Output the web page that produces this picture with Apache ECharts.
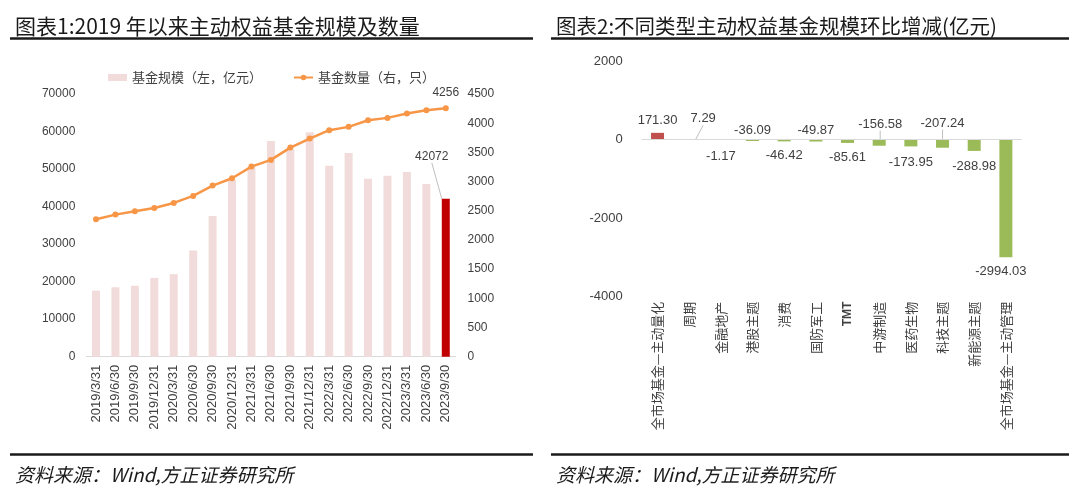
<!DOCTYPE html>
<html>
<head>
<meta charset="utf-8">
<script src="https://cdn.jsdelivr.net/npm/echarts@6/dist/echarts.min.js"></script>
<style>
html,body{margin:0;padding:0;background:#fff;}
#main{width:1080px;height:488px;}
</style>
</head>
<body>
<div id="main"></div>
<script>
// ---- Chart 1 data ----
const dates = ['2019/3/31','2019/6/30','2019/9/30','2019/12/31','2020/3/31','2020/6/30','2020/9/30','2020/12/31','2021/3/31','2021/6/30','2021/9/30','2021/12/31','2022/3/31','2022/6/30','2022/9/30','2022/12/31','2023/3/31','2023/6/30','2023/9/30'];
const fundScale = [17600,18500,18900,21000,22000,28300,37500,47000,50500,57500,55300,59800,50900,54300,47400,48200,49200,46000,42072];
const fundCount = [2355,2434,2491,2548,2634,2754,2931,3057,3257,3371,3582,3737,3880,3937,4051,4091,4165,4222,4256];
const leftTicks = [0,10000,20000,30000,40000,50000,60000,70000];
const rightTicks = [0,500,1000,1500,2000,2500,3000,3500,4000,4500];

// ---- Chart 2 data ----
const categories2 = ['全市场基金—主动量化','周期','金融地产','港股主题','消费','国防军工','TMT','中游制造','医药生物','科技主题','新能源主题','全市场基金—主动管理'];
const changes2 = [171.30, 7.29, -1.17, -36.09, -46.42, -49.87, -85.61, -156.58, -173.95, -207.24, -288.98, -2994.03];
const ticks2 = [-4000,-2000,0,2000];

const CJK = "'Noto Sans CJK SC', sans-serif";
const NUM = "'Liberation Sans', 'Noto Sans CJK SC', sans-serif";
const textColor = '#404040';
const plain = v => String(v);

const chart = echarts.init(document.getElementById('main'), null, {renderer: 'canvas'});

const lastIdx = fundScale.length - 1;
const barData1 = fundScale.map((v, i) => i === lastIdx
  ? {value: v, itemStyle: {color: '#C00000'}, label: {show: true}}
  : {value: v});
const lineData1 = fundCount.map((v, i) => i === lastIdx
  ? {value: v, label: {show: true}}
  : {value: v});

const labelPos2 = ['top','top','bottom','top','bottom','top','bottom','top','bottom','top','bottom','bottom'];
const labelShift2 = [[0,0],[14,-8],[0,4],[0,3],[0,2],[0,3],[0,2],[1,-3],[0,4],[0,-4],[0,3],[-5,2]];
const withLine2 = [false,true,false,false,false,false,false,true,false,true,false,false];
const barData2 = changes2.map((v, i) => ({
  value: v,
  itemStyle: {color: i === 0 ? '#C0504D' : '#9BBB59'},
  label: {position: labelPos2[i]},
  labelLine: {show: withLine2[i]}
}));

const option = {
  animation: false,
  backgroundColor: '#fff',
  textStyle: {fontFamily: NUM},
  title: [
    {text: '图表1:2019 年以来主动权益基金规模及数量', left: 10, top: 11,
     textStyle: {fontFamily: CJK, fontSize: 21, fontWeight: 'normal', color: '#1a1a1a'}},
    {text: '图表2:不同类型主动权益基金规模环比增减(亿元)', left: 551, top: 11,
     textStyle: {fontFamily: CJK, fontSize: 20.5, fontWeight: 'normal', color: '#1a1a1a'}},
    {text: '资料来源：Wind,方正证券研究所', left: 10, top: 460,
     textStyle: {fontFamily: CJK, fontSize: 19, fontWeight: 'normal', fontStyle: 'italic', color: '#1a1a1a'}},
    {text: '资料来源：Wind,方正证券研究所', left: 551, top: 460,
     textStyle: {fontFamily: CJK, fontSize: 19, fontWeight: 'normal', fontStyle: 'italic', color: '#1a1a1a'}}
  ],
  graphic: [
    {type: 'line', shape: {x1: 10, y1: 38.5, x2: 533, y2: 38.5}, style: {stroke: '#1a1a1a', lineWidth: 2.5}},
    {type: 'line', shape: {x1: 551, y1: 38.5, x2: 1069, y2: 38.5}, style: {stroke: '#1a1a1a', lineWidth: 2.5}},
    {type: 'line', shape: {x1: 10, y1: 454.5, x2: 533, y2: 454.5}, style: {stroke: '#1a1a1a', lineWidth: 2.5}},
    {type: 'line', shape: {x1: 551, y1: 454.5, x2: 1069, y2: 454.5}, style: {stroke: '#1a1a1a', lineWidth: 2.5}}
  ],
  legend: {
    left: 103, top: 66,
    itemWidth: 19, itemHeight: 7, itemGap: 31,
    textStyle: {fontFamily: CJK, fontSize: 13, color: textColor},
    data: [
      {name: '基金规模（左，亿元）', icon: 'rect'},
      {name: '基金数量（右，只）'}
    ]
  },
  grid: [
    {left: 86.3, right: 1080 - 455.5, top: 94, bottom: 488 - 356.7, containLabel: false},
    {left: 641.7, right: 1080 - 1021.7, top: 61, bottom: 488 - 296.7, containLabel: false}
  ],
  xAxis: [
    {type: 'category', gridIndex: 0, data: dates,
     axisLine: {lineStyle: {color: '#d9d9d9'}}, axisTick: {show: false},
     axisLabel: {rotate: 90, margin: 8, fontSize: 13, color: textColor, interval: 0, fontFamily: NUM}},
    {type: 'category', gridIndex: 1, data: categories2, position: 'bottom',
     axisLine: {show: false}, axisTick: {show: false},
     axisLabel: {rotate: 90, margin: 5, fontSize: 13, color: textColor, interval: 0, fontFamily: CJK,
       formatter: v => v === 'TMT' ? '{b|TMT}' : v,
       rich: {b: {fontWeight: 'bold', fontSize: 12, fontFamily: NUM, color: textColor}}}}
  ],
  yAxis: [
    {type: 'value', gridIndex: 0, min: leftTicks[0], max: leftTicks[leftTicks.length-1], interval: 10000,
     splitLine: {show: false}, axisLine: {show: false}, axisTick: {show: false},
     axisLabel: {margin: 11, fontSize: 12, color: textColor, formatter: plain}},
    {type: 'value', gridIndex: 0, min: rightTicks[0], max: rightTicks[rightTicks.length-1], interval: 500, position: 'right',
     splitLine: {show: false}, axisLine: {show: false}, axisTick: {show: false},
     axisLabel: {margin: 12, fontSize: 12, color: textColor, formatter: plain}},
    {type: 'value', gridIndex: 1, min: ticks2[0], max: ticks2[ticks2.length-1], interval: 2000,
     splitLine: {show: false}, axisLine: {show: false}, axisTick: {show: false},
     axisLabel: {margin: 19, fontSize: 13, color: textColor, formatter: plain}}
  ],
  series: [
    {name: '基金规模（左，亿元）', type: 'bar', xAxisIndex: 0, yAxisIndex: 0,
     data: barData1, barWidth: 8,
     itemStyle: {color: '#F2DCDB'},
     label: {show: false, position: 'top', fontSize: 12, color: textColor, distance: 5, formatter: p => String(p.value)},
     labelLine: {show: true, lineStyle: {color: '#bfbfbf', width: 1}},
     labelLayout: p => p.dataIndex === lastIdx ? {dx: -14, dy: -31} : {},
     z: 1},
    {name: '基金数量（右，只）', type: 'line', xAxisIndex: 0, yAxisIndex: 1,
     data: lineData1, symbol: 'circle', symbolSize: 6,
     itemStyle: {color: '#F79646'},
     lineStyle: {color: '#F79646', width: 2.5},
     label: {show: false, position: 'top', distance: 7, fontSize: 12, color: textColor, formatter: p => String(p.value)},
     z: 3},
    {name: 'change', type: 'bar', xAxisIndex: 1, yAxisIndex: 2,
     data: barData2, barWidth: 13,
     label: {show: true, distance: 6, fontSize: 13, color: textColor, fontFamily: NUM,
       formatter: p => p.value.toFixed(2)},
     labelLine: {show: false, lineStyle: {color: '#bfbfbf', width: 1}},
     labelLayout: p => ({dx: labelShift2[p.dataIndex][0], dy: labelShift2[p.dataIndex][1]}),
     markLine: {silent: true, symbol: 'none', label: {show: false},
       lineStyle: {color: '#d9d9d9', type: 'solid', width: 1},
       data: [{yAxis: 0}]}}
  ]
};
chart.setOption(option);
</script>
</body>
</html>
